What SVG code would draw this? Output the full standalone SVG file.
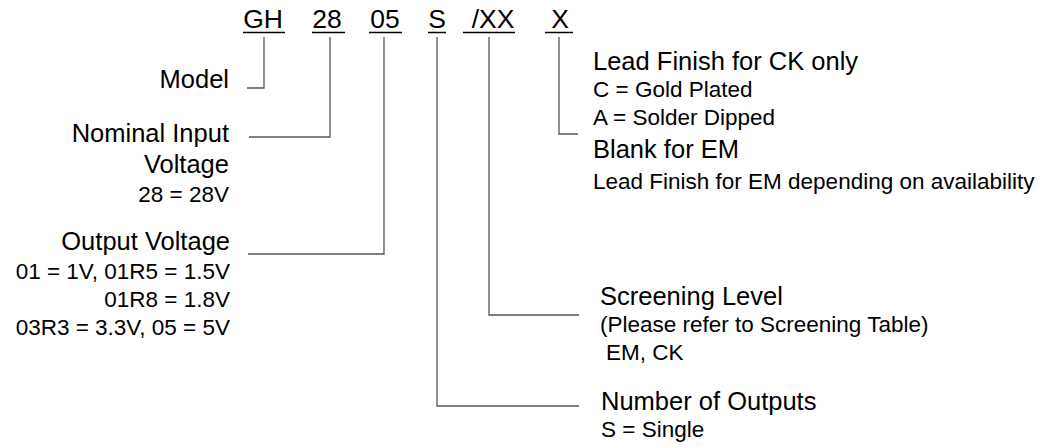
<svg xmlns="http://www.w3.org/2000/svg" width="1059" height="446" viewBox="0 0 1059 446">
<style>
text{font-family:"Liberation Sans",Arial,sans-serif;fill:#000}
.code{font-size:26.5px;text-anchor:middle}
.main{font-size:25.5px}
.sub{font-size:22.5px}
.end{text-anchor:end}
.ul{stroke:#000;stroke-width:1.5}
.conn{fill:none;stroke:#555;stroke-width:1.3}
</style>
<rect width="1059" height="446" fill="#fff"/>
<g id="code">
<g id="code-GH"><text class="code" x="263" y="28">GH</text><line class="ul" x1="243" y1="32.5" x2="285" y2="32.5"/></g>
<g id="code-28"><text class="code" x="327" y="28">28</text><line class="ul" x1="312" y1="32.5" x2="345" y2="32.5"/></g>
<g id="code-05"><text class="code" x="385" y="28">05</text><line class="ul" x1="369" y1="32.5" x2="402" y2="32.5"/></g>
<g id="code-S"><text class="code" x="437" y="28">S</text><line class="ul" x1="428" y1="32.5" x2="446" y2="32.5"/></g>
<g id="code-XX"><text class="code" x="493" y="28">/XX</text><line class="ul" x1="463" y1="32.5" x2="515" y2="32.5"/></g>
<g id="code-X"><text class="code" x="560" y="28">X</text><line class="ul" x1="545" y1="32.5" x2="573" y2="32.5"/></g>
</g>
<g id="connectors">
<polyline class="conn" points="264,37 264,88 247,88"/>
<polyline class="conn" points="330,37 330,137 249,137"/>
<polyline class="conn" points="384,37 384,254 248,254"/>
<polyline class="conn" points="437,37 437,406 579,406"/>
<polyline class="conn" points="489,37 489,315 579,315"/>
<polyline class="conn" points="559,37 559,134 578,134"/>
</g>
<g id="model"><text class="main end" x="229" y="88">Model</text></g>
<g id="nominal-input">
<text class="main end" x="229" y="142">Nominal Input</text>
<text class="main end" x="229" y="173">Voltage</text>
<text class="sub end" x="229" y="202">28 = 28V</text>
</g>
<g id="output-voltage">
<text class="main end" x="230" y="250">Output Voltage</text>
<text class="sub end" x="230" y="279">01 = 1V, 01R5 = 1.5V</text>
<text class="sub end" x="230" y="307">01R8 = 1.8V</text>
<text class="sub end" x="230" y="335">03R3 = 3.3V, 05 = 5V</text>
</g>
<g id="lead-finish">
<text class="main" x="593" y="70">Lead Finish for CK only</text>
<text class="sub" x="593" y="97">C = Gold Plated</text>
<text class="sub" x="593" y="125">A = Solder Dipped</text>
<text class="main" x="593" y="158">Blank for EM</text>
<text class="sub" x="593" y="189">Lead Finish for EM depending on availability</text>
</g>
<g id="screening-level">
<text class="main" x="600" y="305">Screening Level</text>
<text class="sub" x="600" y="332">(Please refer to Screening Table)</text>
<text class="sub" x="606" y="360">EM, CK</text>
</g>
<g id="number-of-outputs">
<text class="main" x="601" y="410">Number of Outputs</text>
<text class="sub" x="601" y="437">S = Single</text>
</g>
</svg>
